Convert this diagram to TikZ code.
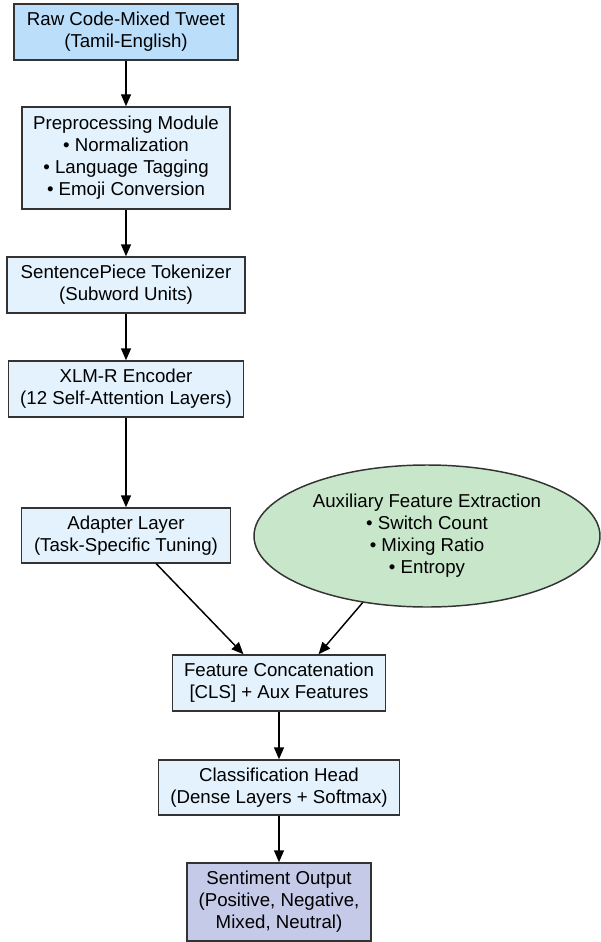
\documentclass[tikz,border=0pt]{standalone}
\usepackage{fontspec}
\setmainfont{Liberation Sans}
\usetikzlibrary{shapes.geometric,arrows.meta}

\definecolor{rawblue}{RGB}{187,222,251}
\definecolor{stepblue}{RGB}{227,242,253}
\definecolor{auxgreen}{RGB}{200,230,201}
\definecolor{outviolet}{RGB}{197,202,233}
\definecolor{edgegray}{RGB}{51,51,51}

\tikzset{every picture/.style={line width=0.75pt}}
\tikzset{
	stage/.style={draw=edgegray, line width=1.1pt, fill=stepblue, align=center, inner sep=0pt, font=\fontsize{14}{16.5}\selectfont},
	flow/.style={draw=black, line width=1.1pt, -{Triangle[length=9pt,width=7.5pt]}}
}

\begin{document}
\begin{tikzpicture}[x=0.75pt,y=0.75pt,yscale=-1,xscale=1]
	\useasboundingbox (0,0) rectangle (600,942);

	%Shape: Rectangle
	\node [stage, fill=rawblue, minimum width=224*0.75pt, minimum height=56*0.75pt] (raw) at (126,32) {Raw Code-Mixed Tweet\\(Tamil-English)};
	%Shape: Rectangle
	\node [stage, minimum width=208*0.75pt, minimum height=102*0.75pt] (prep) at (126,158) {Preprocessing Module\\\textbullet\ Normalization\\\textbullet\ Language Tagging\\\textbullet\ Emoji Conversion};
	%Shape: Rectangle
	\node [stage, minimum width=238*0.75pt, minimum height=56*0.75pt] (spm) at (126,285) {SentencePiece Tokenizer\\(Subword Units)};
	%Shape: Rectangle
	\node [stage, minimum width=235*0.75pt, minimum height=56*0.75pt] (xlmr) at (126,389) {XLM-R Encoder\\(12 Self-Attention Layers)};
	%Shape: Rectangle
	\node [stage, minimum width=209*0.75pt, minimum height=55*0.75pt] (adapter) at (126,535.5) {Adapter Layer\\(Task-Specific Tuning)};
	%Shape: Ellipse
	\node [stage, ellipse, fill=auxgreen, minimum width=346*0.75pt, minimum height=142*0.75pt] (aux) at (427,536) {Auxiliary Feature Extraction\\\textbullet\ Switch Count\\\textbullet\ Mixing Ratio\\\textbullet\ Entropy};
	%Shape: Rectangle
	\node [stage, minimum width=213*0.75pt, minimum height=56*0.75pt] (concat) at (279,683) {Feature Concatenation\\{[CLS]} + Aux Features};
	%Shape: Rectangle
	\node [stage, minimum width=241*0.75pt, minimum height=55*0.75pt] (cls) at (279,787.5) {Classification Head\\(Dense Layers + Softmax)};
	%Shape: Rectangle
	\node [stage, fill=outviolet, minimum width=184*0.75pt, minimum height=78*0.75pt] (out) at (279,902) {Sentiment Output\\(Positive, Negative,\\Mixed, Neutral)};

	%Straight Lines
	\draw [flow] (raw) -- (prep);
	\draw [flow] (prep) -- (spm);
	\draw [flow] (spm) -- (xlmr);
	\draw [flow] (xlmr) -- (adapter);
	\draw [flow] (adapter.-43) -- (concat.141);
	\draw [flow] (aux.226) -- (concat.36);
	\draw [flow] (concat) -- (cls);
	\draw [flow] (cls) -- (out);

\end{tikzpicture}
\end{document}
